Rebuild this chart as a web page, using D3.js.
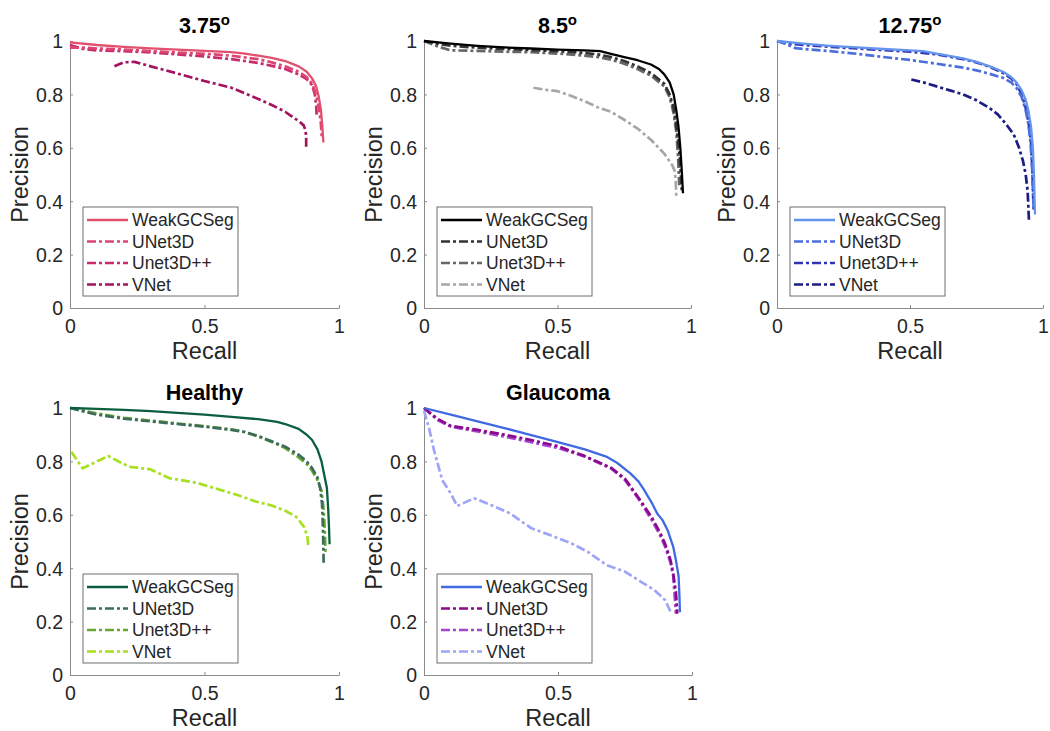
<!DOCTYPE html>
<html><head><meta charset="utf-8">
<script src="https://cdn.jsdelivr.net/npm/d3@7"></script>
<style>body{margin:0;background:#fff}svg{display:block}text{font-family:"Liberation Sans",Arial,sans-serif}</style>
</head><body><svg id="c" width="1050" height="731"></svg>
<script>
// ---- Data: [recall, precision] ----
const seriesNames = ["WeakGCSeg","UNet3D","Unet3D++","VNet"];
const titles = ["3.75","8.5","12.75","Healthy","Glaucoma"];
const titleDegree = [true,true,true,false,false];
const xTicks = [0,0.5,1];
const yTicks = [0,0.2,0.4,0.6,0.8,1];

const p1Weak = [[0,0.995],[0.1,0.985],[0.2,0.978],[0.3,0.972],[0.4,0.968],[0.5,0.963],[0.6,0.958],[0.65,0.953],[0.7,0.945],[0.75,0.937],[0.8,0.925],[0.85,0.905],[0.88,0.885],[0.9,0.86],[0.915,0.83],[0.925,0.79],[0.933,0.74],[0.938,0.68],[0.942,0.62]];
const p1UNet = [[0,0.975],[0.05,0.975],[0.1,0.972],[0.2,0.968],[0.3,0.962],[0.4,0.957],[0.5,0.952],[0.6,0.945],[0.7,0.932],[0.75,0.92],[0.8,0.905],[0.85,0.885],[0.88,0.865],[0.9,0.84],[0.915,0.8],[0.925,0.75],[0.932,0.7],[0.936,0.64]];
const p1UNetPP = [[0,0.985],[0.05,0.97],[0.1,0.965],[0.2,0.962],[0.3,0.957],[0.4,0.95],[0.5,0.942],[0.6,0.932],[0.7,0.918],[0.75,0.907],[0.8,0.895],[0.85,0.875],[0.88,0.857],[0.9,0.835],[0.91,0.8],[0.915,0.76],[0.917,0.72]];
const p1VNet = [[0.165,0.905],[0.2,0.92],[0.24,0.922],[0.3,0.905],[0.4,0.878],[0.5,0.85],[0.6,0.825],[0.7,0.783],[0.75,0.76],[0.8,0.735],[0.85,0.7],[0.868,0.685],[0.876,0.665],[0.878,0.635],[0.878,0.604]];

const p2Weak = [[0,1.0],[0.1,0.99],[0.2,0.982],[0.3,0.976],[0.4,0.972],[0.5,0.968],[0.6,0.965],[0.66,0.962],[0.7,0.952],[0.75,0.94],[0.8,0.928],[0.85,0.912],[0.88,0.895],[0.9,0.875],[0.92,0.845],[0.935,0.8],[0.945,0.74],[0.953,0.68],[0.96,0.6],[0.965,0.52],[0.97,0.43]];
const p2UNet = [[0,1.0],[0.05,0.99],[0.1,0.982],[0.2,0.975],[0.3,0.97],[0.4,0.966],[0.5,0.962],[0.6,0.955],[0.65,0.95],[0.7,0.94],[0.75,0.925],[0.8,0.905],[0.85,0.88],[0.9,0.84],[0.92,0.8],[0.935,0.75],[0.945,0.68],[0.955,0.6],[0.962,0.5],[0.966,0.43]];
const p2UNetPP = [[0,1.0],[0.05,0.98],[0.1,0.965],[0.2,0.963],[0.3,0.96],[0.4,0.958],[0.5,0.953],[0.6,0.945],[0.65,0.94],[0.7,0.93],[0.75,0.915],[0.8,0.895],[0.85,0.87],[0.9,0.83],[0.92,0.79],[0.935,0.73],[0.945,0.66],[0.952,0.56],[0.956,0.46]];
const p2VNet = [[0.41,0.825],[0.45,0.818],[0.5,0.812],[0.55,0.795],[0.6,0.775],[0.65,0.752],[0.7,0.735],[0.75,0.705],[0.8,0.672],[0.85,0.63],[0.9,0.578],[0.93,0.535],[0.94,0.51],[0.943,0.47],[0.945,0.415]];

const p3Weak = [[0,1.0],[0.1,0.99],[0.2,0.982],[0.3,0.976],[0.4,0.97],[0.5,0.965],[0.55,0.962],[0.6,0.953],[0.7,0.935],[0.75,0.922],[0.8,0.905],[0.85,0.885],[0.88,0.865],[0.9,0.845],[0.92,0.815],[0.935,0.78],[0.945,0.74],[0.955,0.68],[0.962,0.6],[0.966,0.5],[0.968,0.42],[0.97,0.35]];
const p3UNet = [[0,1.0],[0.03,0.99],[0.07,0.973],[0.2,0.962],[0.3,0.952],[0.4,0.94],[0.5,0.929],[0.6,0.915],[0.7,0.9],[0.75,0.89],[0.8,0.877],[0.85,0.862],[0.88,0.845],[0.9,0.825],[0.92,0.79],[0.935,0.74],[0.945,0.69],[0.953,0.62],[0.958,0.55],[0.962,0.45],[0.965,0.37]];
const p3UNetPP = [[0,1.0],[0.05,0.99],[0.1,0.985],[0.2,0.978],[0.3,0.972],[0.4,0.966],[0.5,0.96],[0.6,0.95],[0.7,0.932],[0.75,0.92],[0.8,0.903],[0.85,0.88],[0.88,0.86],[0.9,0.84],[0.92,0.8],[0.935,0.75],[0.945,0.7],[0.955,0.62],[0.96,0.52],[0.963,0.42],[0.965,0.36]];
const p3VNet = [[0.505,0.856],[0.55,0.845],[0.6,0.83],[0.65,0.815],[0.7,0.8],[0.75,0.778],[0.8,0.748],[0.83,0.725],[0.86,0.69],[0.89,0.65],[0.91,0.6],[0.925,0.55],[0.935,0.5],[0.942,0.44],[0.945,0.38],[0.947,0.33]];

const p4Weak = [[0,1.0],[0.1,0.997],[0.2,0.993],[0.3,0.988],[0.4,0.982],[0.5,0.975],[0.6,0.967],[0.7,0.958],[0.77,0.948],[0.8,0.94],[0.85,0.922],[0.88,0.9],[0.9,0.88],[0.92,0.845],[0.935,0.8],[0.945,0.75],[0.955,0.7],[0.96,0.62],[0.963,0.55],[0.965,0.49]];
const p4UNet = [[0,1.0],[0.1,0.975],[0.2,0.96],[0.3,0.95],[0.4,0.94],[0.5,0.93],[0.6,0.918],[0.65,0.91],[0.7,0.895],[0.75,0.875],[0.8,0.855],[0.85,0.825],[0.88,0.8],[0.9,0.775],[0.92,0.74],[0.93,0.7],[0.937,0.64],[0.94,0.56],[0.942,0.48],[0.943,0.41]];
const p4UNetPP = [[0,1.0],[0.1,0.98],[0.2,0.963],[0.3,0.953],[0.4,0.942],[0.5,0.932],[0.6,0.92],[0.65,0.91],[0.7,0.893],[0.75,0.873],[0.8,0.85],[0.85,0.815],[0.88,0.79],[0.9,0.765],[0.92,0.73],[0.935,0.69],[0.942,0.63],[0.947,0.55],[0.95,0.46]];
const p4VNet = [[0.005,0.836],[0.047,0.774],[0.1,0.8],[0.142,0.82],[0.22,0.78],[0.3,0.77],[0.37,0.737],[0.47,0.72],[0.56,0.693],[0.62,0.675],[0.69,0.65],[0.75,0.635],[0.8,0.615],[0.84,0.593],[0.87,0.555],[0.882,0.52],[0.886,0.487]];

const p5Weak = [[0,1.0],[0.1,0.975],[0.2,0.95],[0.3,0.925],[0.4,0.898],[0.5,0.872],[0.6,0.845],[0.68,0.818],[0.72,0.795],[0.77,0.755],[0.8,0.725],[0.82,0.695],[0.85,0.645],[0.87,0.605],[0.89,0.58],[0.91,0.54],[0.93,0.48],[0.94,0.43],[0.95,0.37],[0.953,0.3],[0.955,0.235]];
const p5UNet = [[0,1.0],[0.05,0.96],[0.1,0.933],[0.2,0.918],[0.3,0.9],[0.4,0.88],[0.5,0.857],[0.6,0.82],[0.7,0.775],[0.75,0.735],[0.8,0.665],[0.85,0.59],[0.88,0.535],[0.9,0.49],[0.92,0.43],[0.93,0.38],[0.94,0.31],[0.945,0.23]];
const p5UNetPP = [[0,1.0],[0.05,0.955],[0.1,0.93],[0.2,0.912],[0.3,0.893],[0.4,0.872],[0.5,0.85],[0.6,0.818],[0.7,0.772],[0.75,0.73],[0.8,0.66],[0.85,0.58],[0.88,0.525],[0.9,0.48],[0.92,0.42],[0.93,0.37],[0.935,0.3],[0.94,0.23]];
const p5VNet = [[0,0.99],[0.02,0.92],[0.037,0.843],[0.068,0.73],[0.1,0.68],[0.124,0.633],[0.187,0.662],[0.25,0.637],[0.32,0.606],[0.4,0.55],[0.47,0.524],[0.55,0.493],[0.61,0.462],[0.68,0.412],[0.75,0.387],[0.81,0.349],[0.86,0.318],[0.9,0.28],[0.92,0.237]];

const p1Colors = ["#e2506e","#dc4672","#c82c6c","#a3145e"];
const p2Colors = ["#000000","#333333","#666666","#a6a6a6"];
const p3Colors = ["#6495ed","#4a6fdc","#3333b5","#1c1c85"];
const p4Colors = ["#0b5e3e","#3e6b5c","#66a832","#a6e01e"];
const p5Colors = ["#4169e1","#8b0a8b","#a544d0","#9ea4f7"];

const panelData = [
  [p1Weak,p1UNet,p1UNetPP,p1VNet],
  [p2Weak,p2UNet,p2UNetPP,p2VNet],
  [p3Weak,p3UNet,p3UNetPP,p3VNet],
  [p4Weak,p4UNet,p4UNetPP,p4VNet],
  [p5Weak,p5UNet,p5UNetPP,p5VNet]
];
const panelColors = [p1Colors,p2Colors,p3Colors,p4Colors,p5Colors];

// ---- Layout ----
const panelBoxes = [
  {x:70, y:41, w:269, h:267},
  {x:424, y:41, w:267, h:267},
  {x:777, y:41, w:266, h:267},
  {x:70, y:408, w:269, h:267},
  {x:424, y:408, w:268, h:267}
];
const svg = d3.select("#c");
const axisColor = "#8a8a8a";
const textColor = "#262626";

panelBoxes.forEach((b,i)=>{
  const g = svg.append("g").attr("transform",`translate(${b.x},${b.y})`);
  const x = d3.scaleLinear().domain([0,1]).range([0,b.w]);
  const y = d3.scaleLinear().domain([0,1]).range([b.h,0]);

  const xa = g.append("g").attr("transform",`translate(0,${b.h})`)
    .call(d3.axisBottom(x).tickValues(xTicks).tickSizeInner(-3).tickSizeOuter(0).tickPadding(8).tickFormat(d3.format("")));
  const ya = g.append("g")
    .call(d3.axisLeft(y).tickValues(yTicks).tickSizeInner(-3).tickSizeOuter(0).tickPadding(7).tickFormat(d3.format("")));
  [xa,ya].forEach(a=>{
    a.select(".domain").attr("stroke",axisColor).attr("stroke-width",1);
    a.selectAll(".tick line").attr("stroke",axisColor);
    a.selectAll(".tick text").attr("fill",textColor).style("font-size","19.5px").style("font-family","Liberation Sans, Arial, sans-serif");
  });
  xa.selectAll(".tick text").attr("dy","0.85em");
  ya.selectAll(".tick text").attr("dy","0.35em");

  g.append("text").attr("x",b.w/2).attr("y",b.h+51).attr("text-anchor","middle")
    .attr("fill",textColor).style("font-size","23.5px").text("Recall");
  g.append("text").attr("transform",`translate(-42,${b.h/2}) rotate(-90)`).attr("text-anchor","middle")
    .attr("fill",textColor).style("font-size","23.5px").text("Precision");
  const t = g.append("text").attr("x",b.w/2).attr("y",-8).attr("text-anchor","middle")
    .attr("fill","#000").style("font-size","21.5px").style("font-weight","bold").text(titles[i]);
  if(titleDegree[i]) t.append("tspan").attr("dy","-8").style("font-size","15px").text("o");

  const line = d3.line().x(d=>x(d[0])).y(d=>y(d[1]));
  [3,2,1,0].forEach(k=>{
    g.append("path").datum(panelData[i][k]).attr("d",line)
      .attr("fill","none").attr("stroke",panelColors[i][k])
      .attr("stroke-width", k===0?2.3:2.7)
      .attr("stroke-linejoin","round")
      .attr("stroke-dasharray", k===0?null:"9,3,3,3");
  });

  const lw = 155, lh = 89;
  const lg = g.append("g").attr("transform",`translate(13,${b.h-12-lh})`);
  lg.append("rect").attr("width",lw).attr("height",lh).attr("fill","#fff").attr("stroke","#6e6e6e").attr("stroke-width",1);
  seriesNames.forEach((n,k)=>{
    const yy = 13 + k*21.5;
    lg.append("line").attr("x1",4).attr("x2",45).attr("y1",yy).attr("y2",yy)
      .attr("stroke",panelColors[i][k]).attr("stroke-width",k===0?2.5:2.7)
      .attr("stroke-dasharray",k===0?null:"9,3,3,3");
    lg.append("text").attr("x",49).attr("y",yy).attr("dy","0.36em").attr("fill",textColor)
      .style("font-size","17.5px").text(n);
  });
});
</script></body></html>
